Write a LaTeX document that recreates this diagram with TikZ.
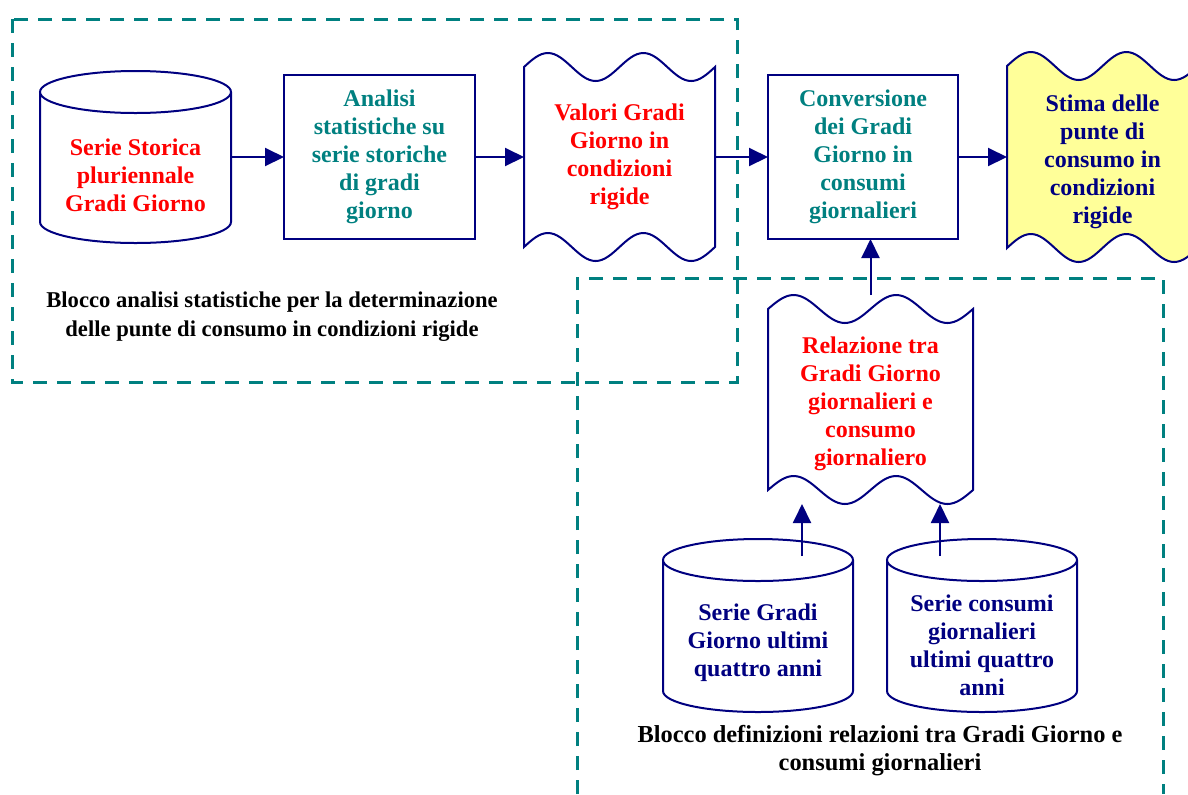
\documentclass[tikz,border=0pt]{standalone}
\usepackage{fontspec}
\setmainfont{Liberation Serif}
\usetikzlibrary{arrows.meta, positioning, calc, backgrounds}

\definecolor{navyline}{RGB}{0,0,128}
\definecolor{tealtext}{RGB}{0,128,128}
\definecolor{redtext}{RGB}{255,0,0}
\definecolor{tapeyellow}{RGB}{255,255,153}

\tikzset{
    lbl/.style={font=\bfseries\fontsize{12}{14}\selectfont, align=center, inner sep=0pt, outer sep=0pt},
    procbox/.style={lbl, draw=navyline, line width=1pt, minimum width=95.5pt, minimum height=82pt},
    tapenode/.style={lbl, minimum width=95.5pt, minimum height=104pt},
    drumnode/.style={inner sep=0pt, outer sep=0pt, minimum width=95.5pt, minimum height=86pt},
    flow/.style={draw=navyline, line width=1pt, -{Triangle[length=9.5pt, width=9pt]}},
    blockline/.style={draw=tealtext, line width=1.5pt, dash pattern=on 7pt off 5pt}
}

% punched tape outline round a node (two waves top and bottom)
\newcommand{\tapeshape}[2][]{%
    \path[draw=navyline, line width=1pt, #1]
        let \p1=(#2.north west), \p2=(#2.south east), \n1={(\x2-\x1)/8} in
        (\x1,\y1-7pt) sin (\x1+\n1,\y1) cos (\x1+2*\n1,\y1-7pt)
        sin (\x1+3*\n1,\y1-14pt) cos (\x1+4*\n1,\y1-7pt)
        sin (\x1+5*\n1,\y1) cos (\x1+6*\n1,\y1-7pt)
        sin (\x1+7*\n1,\y1-14pt) cos (\x2,\y1-7pt)
        -- (\x2,\y2+7pt) sin (\x2-\n1,\y2) cos (\x2-2*\n1,\y2+7pt)
        sin (\x2-3*\n1,\y2+14pt) cos (\x2-4*\n1,\y2+7pt)
        sin (\x2-5*\n1,\y2) cos (\x2-6*\n1,\y2+7pt)
        sin (\x2-7*\n1,\y2+14pt) cos (\x1,\y2+7pt) -- cycle;
}

% cylinder outline round a node
\newcommand{\drumshape}[1]{%
    \draw[navyline, line width=1pt]
        let \p1=(#1.north west), \p2=(#1.south east) in
        (\x1,\y1-10.5pt) -- (\x1,\y2+10.5pt)
        arc[start angle=180, end angle=360, x radius={(\x2-\x1)/2}, y radius=10.5pt]
        -- (\x2,\y1-10.5pt)
        arc[start angle=0, end angle=180, x radius={(\x2-\x1)/2}, y radius=10.5pt]
        arc[start angle=180, end angle=360, x radius={(\x2-\x1)/2}, y radius=10.5pt];
}

\begin{document}
\begin{tikzpicture}[x=0.5pt, y=-0.5pt]
    \useasboundingbox (0,0) rectangle (1188,794);
    \clip (0,0) rectangle (1188,794);

    % top row
    \node[drumnode] (serie) at (135.5,157) {};
    \node[procbox, text=tealtext, right=26.5pt of serie] (analisi)
        {Analisi\\statistiche su\\serie storiche\\di gradi\\giorno};
    \node[tapenode, text=redtext, right=24.5pt of analisi] (valori)
        {Valori Gradi\\Giorno in\\condizioni\\rigide};
    \node[procbox, text=tealtext, minimum width=95pt, right=26.5pt of valori] (conv)
        {Conversione\\dei Gradi\\Giorno in\\consumi\\giornalieri};
    \node[tapenode, minimum height=105pt, right=24.5pt of conv] (stima) {};

    % second block
    \node[tapenode, minimum width=102.5pt, minimum height=104.5pt] (relazione) at (870.5,399.5) {};
    \node[drumnode, minimum width=95pt, minimum height=86.5pt] (cylA) at (758,625.5) {};
    \node[drumnode, minimum width=95pt, minimum height=86.5pt] (cylB) at (982,625.5) {};

    \drumshape{serie}
    \drumshape{cylA}
    \drumshape{cylB}
    \tapeshape{valori}
    \tapeshape{relazione}
    \begin{scope}[on background layer]
        \tapeshape[fill=tapeyellow]{stima}
    \end{scope}

    \node[lbl, text=redtext] (serieTxt) at ($(serie.center)+(0,18)$)
        {Serie Storica\\pluriennale\\Gradi Giorno};
    \node[lbl, text=navyline] (stimaTxt) at ($(stima.center)+(0,5)$)
        {Stima delle\\punte di\\consumo in\\condizioni\\rigide};
    \node[lbl, text=redtext] (relazioneTxt) at ($(relazione.center)+(0,4)$)
        {Relazione tra\\Gradi Giorno\\giornalieri e\\consumo\\giornaliero};
    \node[lbl, text=navyline] (cylATxt) at ($(cylA.center)+(0,17.5)$)
        {Serie Gradi\\Giorno ultimi\\quattro anni};
    \node[lbl, text=navyline] (cylBTxt) at ($(cylB.center)+(0,19.5)$)
        {Serie consumi\\giornalieri\\ultimi quattro\\anni};

    % connectors
    \draw[flow] (serie.east) -- (serie.east -| analisi.west);
    \draw[flow] (analisi.east) -- (analisi.east -| valori.west);
    \draw[flow] (valori.east) -- (valori.east -| conv.west);
    \draw[flow] (conv.east) -- (conv.east -| stima.west);
    \draw[flow] (relazione.north) -- (relazione.north |- conv.south);
    \coordinate (inA) at ($(relazione.south west)+(34,0)$);
    \coordinate (inB) at ($(relazione.south east)+(-33,0)$);
    \draw[flow] (inA |- cylA.north) ++(0,17) -- (inA);
    \draw[flow] (inB |- cylB.north) ++(0,17) -- (inB);

    % dashed blocks
    \draw[blockline] (12,19) rectangle (737,382);
    \draw[blockline] (577,794) |- (1163,278) -- (1163,794);
    \node[lbl, font=\bfseries\fontsize{11.3}{14.5}\selectfont] (blockA) at (272,317)
        {Blocco analisi statistiche per la determinazione\\delle punte di consumo in condizioni rigide};
    \node[lbl, font=\bfseries\fontsize{12.2}{14}\selectfont] (blockB) at (880,751)
        {Blocco definizioni relazioni tra Gradi Giorno e\\consumi giornalieri};
\end{tikzpicture}
\end{document}
